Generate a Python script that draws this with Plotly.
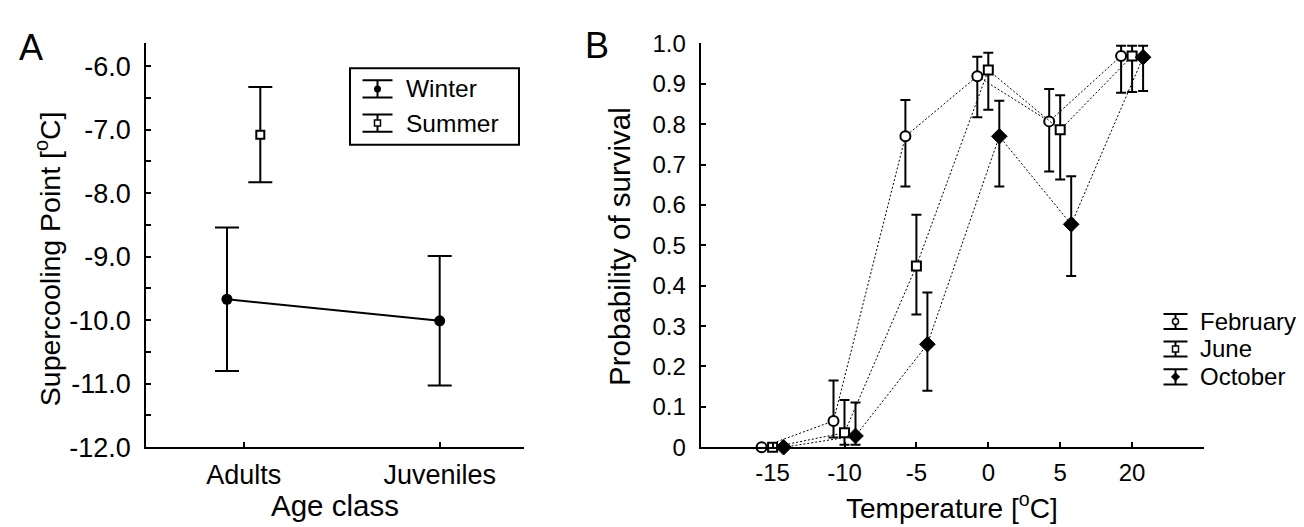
import plotly.graph_objects as go

# ---------------- data ----------------
age_classes = ["Adults", "Juveniles"]
winter_mean = [-9.67, -10.01]
winter_err = [1.13, 1.02]
summer_mean = [-7.08, None]
summer_err = [0.75, None]
spc_ticks = [-12, -11, -10, -9, -8, -7, -6]

temperatures = ["-15", "-10", "-5", "0", "5", "20"]
feb_mean = [0.0, 0.065, 0.770, 0.919, 0.807, 0.969]
feb_upper = [0.0, 0.165, 0.860, 0.967, 0.887, 0.994]
feb_lower = [0.0, 0.024, 0.646, 0.817, 0.683, 0.878]
jun_mean = [0.0, 0.036, 0.449, 0.934, 0.786, 0.969]
jun_upper = [0.0, 0.117, 0.576, 0.977, 0.872, 0.994]
jun_lower = [0.0, 0.006, 0.329, 0.836, 0.663, 0.880]
oct_mean = [0.0, 0.028, 0.255, 0.770, 0.552, 0.966]
oct_upper = [0.0, 0.111, 0.383, 0.858, 0.671, 0.994]
oct_lower = [0.0, 0.006, 0.140, 0.646, 0.424, 0.882]
surv_ticks = [0, 0.1, 0.2, 0.3, 0.4, 0.5, 0.6, 0.7, 0.8, 0.9, 1.0]

# ---------------- helpers ----------------
W, H = 1304, 527
FONT = "Liberation Sans, Arial, Helvetica, sans-serif"
BLACK = "#000000"


def px(x):
    return x / W


def py(y):
    return 1 - y / H


fig = go.Figure()

# ---------------- panel A ----------------
idx = list(range(len(age_classes)))
pair_off = 0.085
winter_x = [i - pair_off if summer_mean[i] is not None else i for i in idx]
summer_x = [i + pair_off for i in idx if summer_mean[i] is not None]
summer_y = [v for v in summer_mean if v is not None]
summer_e = [e for e in summer_err if e is not None]

fig.add_trace(go.Scatter(
    x=winter_x, y=winter_mean, mode="lines+markers", name="Winter",
    line=dict(color=BLACK, width=2),
    marker=dict(symbol="circle", size=11, color=BLACK),
    error_y=dict(type="data", array=winter_err, color=BLACK, thickness=2, width=12),
    xaxis="x", yaxis="y", cliponaxis=False, showlegend=False))
fig.add_trace(go.Scatter(
    x=summer_x, y=summer_y, mode="markers", name="Summer",
    marker=dict(symbol="square", size=8, color="white", line=dict(color=BLACK, width=2)),
    error_y=dict(type="data", array=summer_e, color=BLACK, thickness=2, width=12),
    xaxis="x", yaxis="y", cliponaxis=False, showlegend=False))

# ---------------- panel B ----------------
tidx = list(range(len(temperatures)))
month_off = 0.153
series_b = [
    ("February", feb_mean, feb_upper, feb_lower, -month_off,
     dict(symbol="circle", size=10, color="white", line=dict(color=BLACK, width=2))),
    ("June", jun_mean, jun_upper, jun_lower, 0.0,
     dict(symbol="square", size=9, color="white", line=dict(color=BLACK, width=2))),
    ("October", oct_mean, oct_upper, oct_lower, month_off,
     dict(symbol="diamond", size=12, color=BLACK, line=dict(color=BLACK, width=1))),
]
for name, m, up, lo, off, mk in series_b:
    fig.add_trace(go.Scatter(
        x=[i + off for i in tidx], y=m, mode="lines+markers", name=name,
        line=dict(color=BLACK, width=1, dash="2px,2px"),
        marker=mk,
        error_y=dict(type="data", symmetric=False,
                     array=[u - v for u, v in zip(up, m)],
                     arrayminus=[v - l for v, l in zip(m, lo)],
                     color=BLACK, thickness=2, width=5),
        xaxis="x2", yaxis="y2", cliponaxis=False, showlegend=False))

# ---------------- legend glyphs (hidden axes) ----------------
legA_rows = [("Winter", dict(symbol="circle", size=7, color=BLACK)),
             ("Summer", dict(symbol="square", size=6, color="white", line=dict(color=BLACK, width=1.5)))]
legA_y = [70.8, 107.0]
for (name, mk), yy in zip(legA_rows, legA_y):
    fig.add_trace(go.Scatter(x=[369.5], y=[yy], mode="markers", marker=mk,
                             error_y=dict(type="data", array=[9.2], color=BLACK, thickness=2, width=15),
                             xaxis="x3", yaxis="y3", showlegend=False, hoverinfo="skip"))
    fig.add_annotation(x=px(395.8), y=py(yy), xref="paper", yref="paper", text=name,
                       showarrow=False, xanchor="left", yanchor="middle",
                       font=dict(family=FONT, size=24.5, color=BLACK))

legB_y = [317.0, 346.0, 375.5]
legB_marks = [dict(symbol="circle", size=6, color="white", line=dict(color=BLACK, width=1.5)),
              dict(symbol="square", size=6, color="white", line=dict(color=BLACK, width=1.5)),
              dict(symbol="diamond", size=7, color=BLACK)]
for (name, *_rest), yy, mk in zip(series_b, legB_y, legB_marks):
    fig.add_trace(go.Scatter(x=[1167.5], y=[yy], mode="markers", marker=mk,
                             error_y=dict(type="data", array=[8], color=BLACK, thickness=2, width=12),
                             xaxis="x4", yaxis="y4", showlegend=False, hoverinfo="skip"))
    fig.add_annotation(x=px(1190), y=py(yy), xref="paper", yref="paper", text=name,
                       showarrow=False, xanchor="left", yanchor="middle",
                       font=dict(family=FONT, size=24, color=BLACK))

fig.add_shape(type="rect", xref="paper", yref="paper",
              x0=px(342), x1=px(511), y0=py(130), y1=py(49),
              line=dict(color=BLACK, width=2), fillcolor="rgba(0,0,0,0)")

# ---------------- axes ----------------
common = dict(showline=True, linecolor=BLACK, linewidth=2, showgrid=False, zeroline=False,
              ticks="inside", ticklen=5, tickwidth=1.5, tickcolor=BLACK, mirror=False)

fig.update_layout(
    width=W, height=H, margin=dict(l=0, r=0, t=0, b=0),
    paper_bgcolor="white", plot_bgcolor="white", showlegend=False,
    font=dict(family=FONT, color=BLACK),
    xaxis=dict(domain=[px(138.3), px(515.7)], range=[-0.4966, 1.4286],
               tickvals=idx, ticktext=age_classes, tickfont=dict(size=27),
               ticklabelstandoff=2, anchor="y", **common),
    yaxis=dict(domain=[py(450), py(22.7)], range=[-12, -5.643],
               tickvals=spc_ticks, ticktext=[f"{v:.1f}" for v in spc_ticks],
               tickfont=dict(size=27), ticklabelstandoff=8, anchor="x",
               minor=dict(dtick=0.5, tick0=-12, ticks="inside", ticklen=5, tickwidth=1.5,
                          tickcolor=BLACK, showgrid=False),
               **common),
    xaxis2=dict(domain=[px(692.7), px(1196)], range=[-1, 6],
                tickvals=tidx, ticktext=temperatures, tickfont=dict(size=24),
                ticklabelstandoff=3, anchor="y2", **common),
    yaxis2=dict(domain=[py(450), py(22.7)], range=[0, 1.0],
                tickvals=surv_ticks, ticktext=["0" if v == 0 else f"{v:.1f}" for v in surv_ticks],
                tickfont=dict(size=24), ticklabelstandoff=8, anchor="x2", **common),
    xaxis3=dict(domain=[px(342), px(511)], range=[342, 511], visible=False, anchor="y3"),
    yaxis3=dict(domain=[py(130), py(49)], range=[130, 49], visible=False, anchor="x3"),
    xaxis4=dict(domain=[px(1140), px(1300)], range=[1140, 1300], visible=False, anchor="y4"),
    yaxis4=dict(domain=[py(395), py(300)], range=[395, 300], visible=False, anchor="x4"),
)

# ---------------- titles & panel letters ----------------
def txt(x, y, s, size, angle=0):
    fig.add_annotation(x=px(x), y=py(y), xref="paper", yref="paper", text=s,
                       showarrow=False, xanchor="center", yanchor="middle", textangle=angle,
                       font=dict(family=FONT, size=size, color=BLACK))


txt(22.5, 27, "A", 36)
txt(589, 25, "B", 36)
txt(327, 512, "Age class", 29.5)
txt(40, 251, "Supercooling Point [<sup>o</sup>C]", 28.5, -90)
txt(944, 512, "Temperature [<sup>o</sup>C]", 28)
txt(612, 238, "Probability of survival", 29.5, -90)

fig.write_html("out.html")
